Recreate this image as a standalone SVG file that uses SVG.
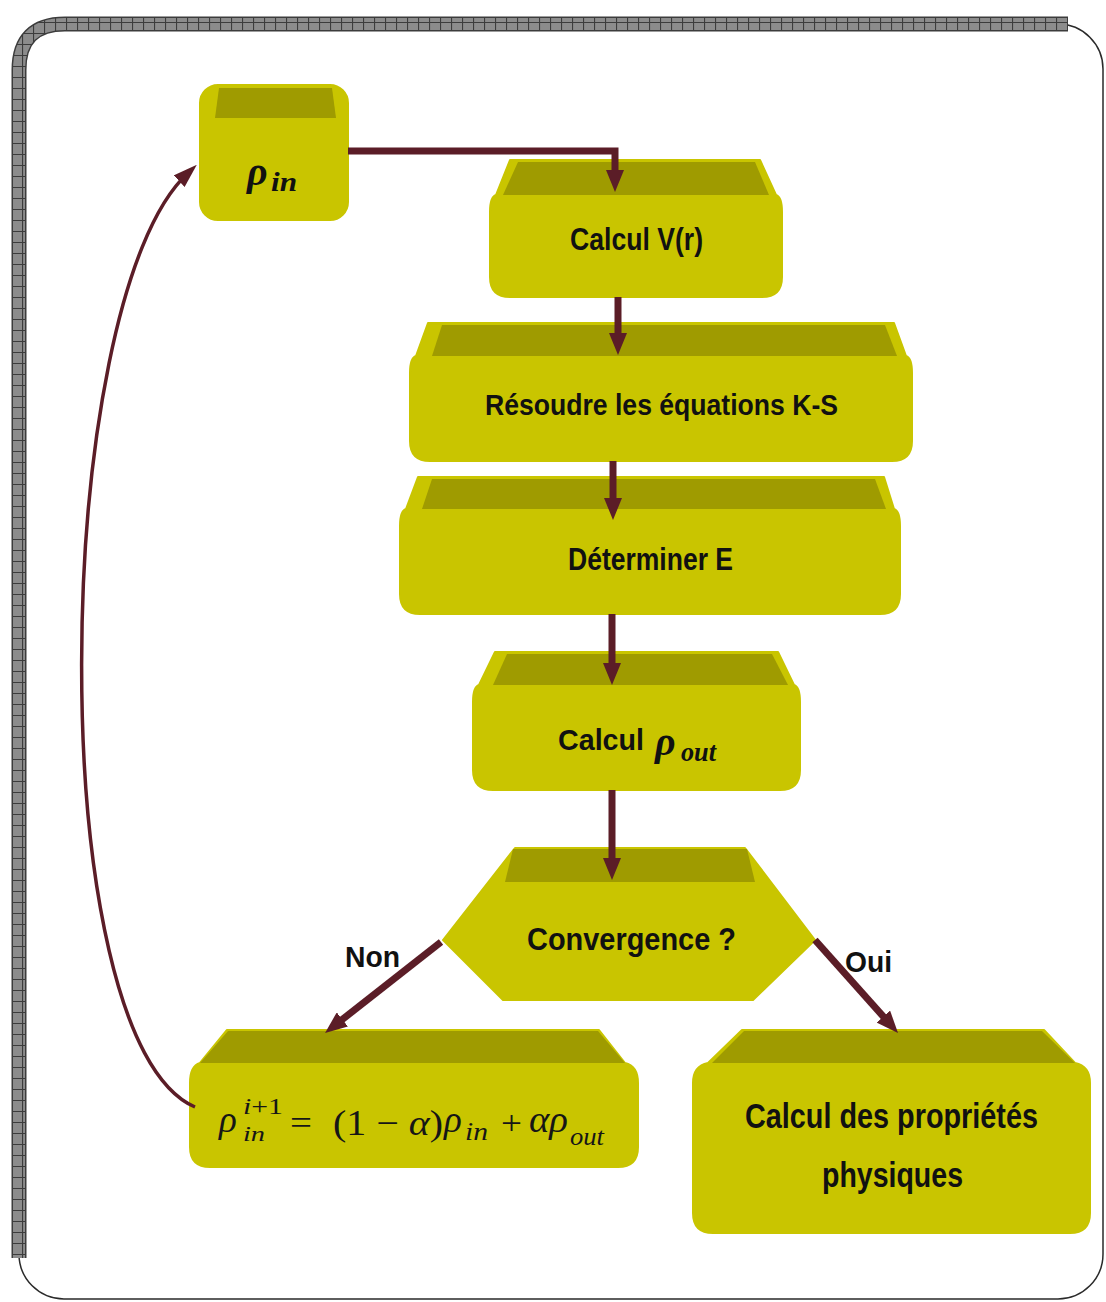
<svg xmlns="http://www.w3.org/2000/svg" width="1106" height="1302" viewBox="0 0 1106 1302">
<defs>
<style>
.front{fill:#c9c500;stroke:#c9c500;stroke-width:2;stroke-linejoin:round}
.top{fill:#9f9b00}
.lbl{font-family:"Liberation Sans",Arial,sans-serif;font-weight:bold;fill:#111}
.math{font-family:"Liberation Serif","Times New Roman",serif;fill:#161616}
.mb{font-family:"Liberation Serif","Times New Roman",serif;font-weight:bold;font-style:italic;fill:#111}
.conn{fill:none;stroke:#5b1d27;stroke-width:7;stroke-linejoin:miter}
.curve{fill:none;stroke:#5b1d27;stroke-width:3.5}
</style>
<pattern id="hatch" width="11" height="11" patternUnits="userSpaceOnUse">
<rect width="11" height="11" fill="#8c8c8c"/>
<path d="M0,0.5 H11 M0.5,0 V11" stroke="#3c3c3c" stroke-width="1.2"/>
</pattern>
<marker id="ah" viewBox="0 0 22 18" refX="11" refY="9" markerWidth="22" markerHeight="18" markerUnits="userSpaceOnUse" orient="auto">
<path d="M0,0 L22,9 L0,18 z" fill="#5b1d27"/>
</marker>
<marker id="ahs" viewBox="0 0 24 16" refX="12" refY="8" markerWidth="24" markerHeight="16" markerUnits="userSpaceOnUse" orient="auto">
<path d="M0,0 L24,8 L0,16 z" fill="#5b1d27"/>
</marker>
</defs>
<rect width="1106" height="1302" fill="#ffffff"/>
<g id="frame">
<rect x="19" y="24" width="1084" height="1275" rx="45" fill="none" stroke="#2a2a2a" stroke-width="1.5"/>
<path d="M19,1258 V70 Q19,24 65,24 H1068" fill="none" stroke="#3c3c3c" stroke-width="15"/>
<path d="M19,1258 V70 Q19,24 65,24 H1068" fill="none" stroke="url(#hatch)" stroke-width="12"/>
</g>
<g id="node-rho-in">
<rect class="front" x="200" y="85" width="148" height="135" rx="18"/>
<path class="top" d="M219,88 H332 L336,118 H215 Z"/>
<text class="mb" x="247" y="185" font-size="40">ρ</text>
<text class="mb" x="271" y="191" font-size="28" textLength="26" lengthAdjust="spacingAndGlyphs">in</text>
</g>
<g id="node-calcul-v">
<path class="front" d="M510,160 H760 L776,195 Q782,197 782,212 V277 Q782,297 762,297 H510 Q490,297 490,277 V212 Q490,197 496,195 Z"/>
<path class="top" d="M518,162 H755 L769,195 H503 Z"/>
<text class="lbl" x="570" y="250" font-size="31" textLength="133" lengthAdjust="spacingAndGlyphs">Calcul V(r)</text>
</g>
<g id="node-resoudre">
<path class="front" d="M428,323 H894 L906,356 Q912,358 912,373 V441 Q912,461 892,461 H430 Q410,461 410,441 V373 Q410,358 416,356 Z"/>
<path class="top" d="M442,325 H885 L897,356 H432 Z"/>
<text class="lbl" x="485" y="415" font-size="29" textLength="353" lengthAdjust="spacingAndGlyphs">Résoudre les équations K-S</text>
</g>
<g id="node-determiner">
<path class="front" d="M418,477 H884 L894,509 Q900,511 900,526 V594 Q900,614 880,614 H420 Q400,614 400,594 V526 Q400,511 406,509 Z"/>
<path class="top" d="M432,479 H875 L886,509 H422 Z"/>
<text class="lbl" x="568" y="570" font-size="31" textLength="165" lengthAdjust="spacingAndGlyphs">Déterminer E</text>
</g>
<g id="node-calcul-rho-out">
<path class="front" d="M495,652 H778 L794,685 Q800,687 800,702 V770 Q800,790 780,790 H493 Q473,790 473,770 V702 Q473,687 479,685 Z"/>
<path class="top" d="M507,654 H772 L788,685 H493 Z"/>
<text class="lbl" x="558" y="750" font-size="30" textLength="86" lengthAdjust="spacingAndGlyphs">Calcul</text>
<text class="mb" x="655" y="755" font-size="40">ρ</text>
<text class="mb" x="681" y="761" font-size="27" textLength="35" lengthAdjust="spacingAndGlyphs">out</text>
</g>
<g id="node-convergence">
<path class="front" d="M515,848 H745 L815,940 L753,1000 H503 L443,940 Z"/>
<path class="top" d="M513,849 H747 L755,882 H505 Z"/>
<text class="lbl" x="527" y="950" font-size="32" textLength="209" lengthAdjust="spacingAndGlyphs">Convergence ?</text>
</g>
<g id="node-update">
<path class="front" d="M227,1030 H599 L625,1063 Q638,1066 638,1083 V1147 Q638,1167 618,1167 H210 Q190,1167 190,1147 V1083 Q190,1066 200,1063 Z"/>
<path class="top" d="M228,1031 H598 L625,1063 H200 Z"/>
<text class="math" x="219" y="1132" font-size="37" font-style="italic">ρ</text>
<text class="math" x="243" y="1114" font-size="24" textLength="40" lengthAdjust="spacingAndGlyphs"><tspan font-style="italic">i</tspan>+1</text>
<text class="math" x="243" y="1141" font-size="22" font-style="italic" textLength="22" lengthAdjust="spacingAndGlyphs">in</text>
<text class="math" x="290" y="1134" font-size="34" textLength="22" lengthAdjust="spacingAndGlyphs">=</text>
<text class="math" x="333" y="1135" font-size="36" textLength="110" lengthAdjust="spacingAndGlyphs">(1 − <tspan font-style="italic">α</tspan>)</text>
<text class="math" x="444" y="1132" font-size="37" font-style="italic">ρ</text>
<text class="math" x="465" y="1140" font-size="25" font-style="italic" textLength="23" lengthAdjust="spacingAndGlyphs">in</text>
<text class="math" x="501" y="1134" font-size="34" textLength="21" lengthAdjust="spacingAndGlyphs">+</text>
<text class="math" x="529" y="1132" font-size="37" font-style="italic" textLength="39" lengthAdjust="spacingAndGlyphs">αρ</text>
<text class="math" x="570" y="1145" font-size="25" font-style="italic" textLength="34" lengthAdjust="spacingAndGlyphs">out</text>
</g>
<g id="node-proprietes">
<path class="front" d="M742,1030 H1044 L1075,1063 Q1090,1066 1090,1083 V1213 Q1090,1233 1070,1233 H713 Q693,1233 693,1213 V1083 Q693,1066 708,1063 Z"/>
<path class="top" d="M744,1031 H1042 L1075,1063 H712 Z"/>
<text class="lbl" x="745" y="1128" font-size="35" textLength="293" lengthAdjust="spacingAndGlyphs">Calcul des propriétés</text>
<text class="lbl" x="822" y="1187" font-size="35" textLength="141" lengthAdjust="spacingAndGlyphs">physiques</text>
</g>
<g id="connectors">
<path class="conn" d="M348,151 H615 V181" marker-end="url(#ah)"/>
<path class="conn" d="M618,297 V344" marker-end="url(#ah)"/>
<path class="conn" d="M613,461 V509" marker-end="url(#ah)"/>
<path class="conn" d="M612,614 V674" marker-end="url(#ah)"/>
<path class="conn" d="M612,790 V869" marker-end="url(#ah)"/>
<path class="conn" d="M441,942 L333.7,1026.2" marker-end="url(#ah)"/>
<path class="conn" d="M815,940 L890.7,1024.8" marker-end="url(#ah)"/>
<path class="curve" d="M195,1107 C40,1040 50,300 188,173" marker-end="url(#ahs)"/>
</g>
<g id="labels">
<text class="lbl" x="345" y="967" font-size="30" textLength="55" lengthAdjust="spacingAndGlyphs">Non</text>
<text class="lbl" x="845" y="972" font-size="30" textLength="47" lengthAdjust="spacingAndGlyphs">Oui</text>
</g>
</svg>
